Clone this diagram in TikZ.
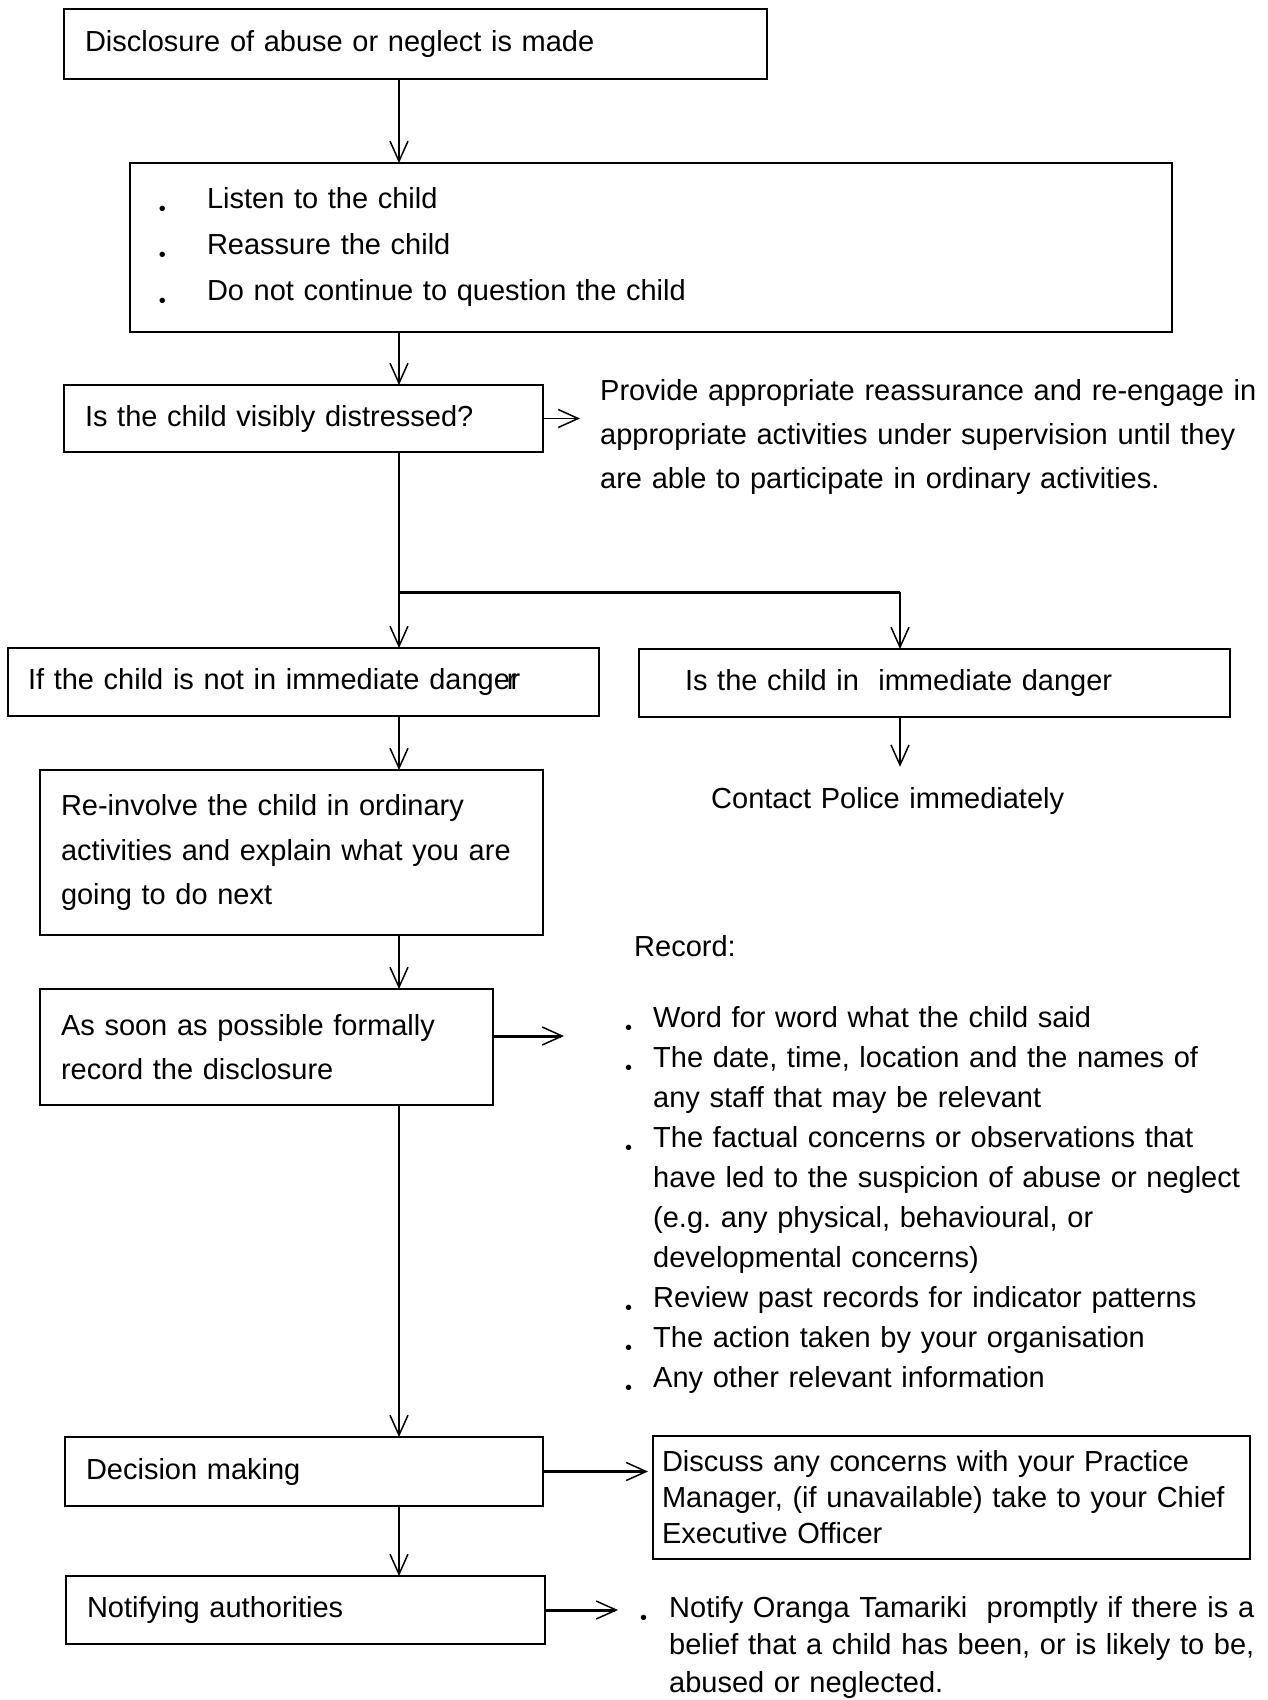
\documentclass[tikz,border=0pt]{standalone}
\usepackage{fontspec}
\setmainfont{Liberation Sans}
\usepackage{tikz}
\usetikzlibrary{positioning}
\usetikzlibrary{calc}
\usetikzlibrary{arrows.meta}
\tikzset{
	flow box/.style={
		draw, line width=1.5pt, anchor=north west, align=left,
		inner xsep=21pt, inner ysep=0pt, outer sep=0pt
	},
	free text/.style={
		anchor=base west, align=left, inner sep=0pt, text width=#1
	},
	flow arrow/.style={
		-{Straight Barb[length=20pt,width=18pt,line width=1.5pt]}, line width=1.5pt
	},
	heavy arrow/.style={
		flow arrow, line width=3pt
	}
}
\def\bul#1{\leavevmode\llap{\raisebox{-7pt}{\fontsize{20}{20}\selectfont •}\hspace{#1}}}

\begin{document}
\begin{tikzpicture}[x=1pt, y=-1pt, every node/.style={font=\fontsize{29}{35}\selectfont}]
    \useasboundingbox (0,0) rectangle (1267,1700);
    \coordinate (spine) at (399,0);
    \coordinate (rcol) at (900,0);
    \coordinate (fork) at (399,592);

    \node[flow box, text width=661pt, minimum height=70pt] (disclose) at (64,9) {Disclosure of abuse or neglect is made};
    \node[flow box, inner xsep=77pt, text width=888pt, minimum height=169pt, font=\fontsize{29}{46}\selectfont] (listen) at (130,163) {
        \bul{41pt}Listen to the child\\
        \bul{41pt}Reassure the child\\
        \bul{41pt}Do not continue to question the child};
    \node[flow box, text width=437pt, minimum height=67pt] (distress) at (64,385) {Is the child visibly distressed?};
    \node[free text=700pt, font=\fontsize{29}{44}\selectfont] (provide) at (600,400) {
        Provide appropriate reassurance and re-engage in\\
        appropriate activities under supervision until they\\
        are able to participate in ordinary activities.};

    \node[flow box, inner xsep=20pt, text width=551pt, minimum height=68pt] (notdanger) at (8,648) {If the child is not in immediate dange\kern-3pt r\kern-6pt r};
    \node[flow box, inner xsep=46pt, text width=499pt, minimum height=68pt] (danger) at (639,649) {Is the child in~ immediate danger};
    \node[flow box, text width=461pt, minimum height=165pt, font=\fontsize{29}{44.5}\selectfont] (reinvolve) at (40,770) {
        Re-involve the child in ordinary\\
        activities and explain what you are\\
        going to do next\\[6pt]};
    \node[free text=400pt] (police) at (711,808) {Contact Police immediately};

    \node[flow box, text width=411pt, minimum height=116pt, font=\fontsize{29}{44}\selectfont] (formal) at (40,989) {
        As soon as possible formally\\
        record the disclosure\\[6pt]};
    \node[free text=200pt] (recordhead) at (634,956) {Record:};
    \node[free text=600pt, font=\fontsize{29}{40}\selectfont] (recordlist) at (653,1027) {
        \bul{21pt}Word for word what the child said\\
        \bul{21pt}The date, time, location and the names of\\
        any staff that may be relevant\\
        \bul{21pt}The factual concerns or observations that\\
        have led to the suspicion of abuse or neglect\\
        (e.g.\ any physical, behavioural, or\\
        developmental concerns)\\
        \bul{21pt}Review past records for indicator patterns\\
        \bul{21pt}The action taken by your organisation\\
        \bul{21pt}Any other relevant information};

    \node[flow box, text width=436pt, minimum height=69pt] (decide) at (65,1437) {Decision making};
    \node[flow box, inner xsep=9pt, text width=579pt, minimum height=123pt, font=\fontsize{29}{36}\selectfont] (discuss) at (653,1436) {
        Discuss any concerns with your Practice\\
        Manager, (if unavailable) take to your Chief\\
        Executive Officer};
    \node[flow box, text width=437pt, minimum height=68pt] (notify) at (66,1576) {Notifying authorities};
    \node[free text=600pt, font=\fontsize{29}{37.5}\selectfont] (notifytext) at (669,1617) {
        \bul{22pt}Notify Oranga Tamariki~ promptly if there is a\\
        belief that a child has been, or is likely to be,\\
        abused or neglected.};

    % spine
    \draw[flow arrow] (disclose.south -| spine) -- (listen.north -| spine);
    \draw[flow arrow] (listen.south -| spine) -- (distress.north -| spine);
    \draw[flow arrow, shorten >=20pt] (distress.east) -- (distress.east -| provide.west);
    \draw[flow arrow] (distress.south -| spine) -- (notdanger.north -| spine);
    \draw[line width=3pt] (fork) -- (fork -| rcol);
    \draw[flow arrow] (fork -| rcol) -- (danger.north -| rcol);
    \draw[flow arrow, shorten >=20pt] (danger.south -| rcol) -- (police.north -| rcol);
    \draw[flow arrow] (notdanger.south -| spine) -- (reinvolve.north -| spine);
    \draw[flow arrow] (reinvolve.south -| spine) -- (formal.north -| spine);
    \draw[heavy arrow, shorten >=89pt] ([yshift=11pt]formal.east) -- ([yshift=11pt]formal.east -| recordlist.west);
    \draw[flow arrow] (formal.south -| spine) -- (decide.north -| spine);
    \draw[heavy arrow, shorten >=5pt] (decide.east) -- (decide.east -| discuss.west);
    \draw[flow arrow] (decide.south -| spine) -- (notify.north -| spine);
    \draw[heavy arrow, shorten >=51pt] (notify.east) -- (notify.east -| notifytext.west);
\end{tikzpicture}
\end{document}
